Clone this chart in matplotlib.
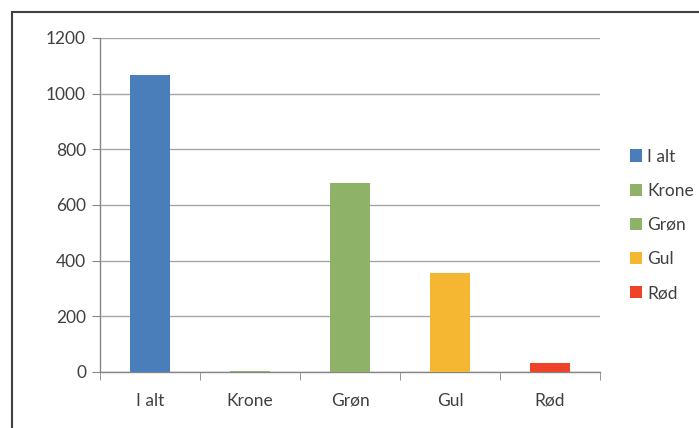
import matplotlib
matplotlib.use("Agg")
import matplotlib.pyplot as plt
from matplotlib.lines import Line2D
from matplotlib.patches import Patch

categories = ["I alt", "Krone", "Grøn", "Gul", "Rød"]
values = [1067, 5, 679, 354, 33]
colors = ["#4a7ebb", "#8db268", "#8db268", "#f5b731", "#ee4229"]
yticks = [0, 200, 400, 600, 800, 1000, 1200]

plt.rcParams['font.family'] = ['Lato', 'DejaVu Sans']

W, H = 699, 428
fig = plt.figure(figsize=(W / 100, H / 100), dpi=100)
ax = fig.add_axes([100 / W, 1 - 372 / H, 500 / W, 334 / H])

x = list(range(len(categories)))
ax.bar(x, values, width=0.4, color=colors, zorder=3)
ax.set_xlim(-0.5, len(categories) - 0.5)
ax.set_ylim(0, 1200)
ax.set_yticks(yticks)
ax.set_yticklabels([str(v) for v in yticks], fontsize=12.5, color="#404040")
ax.set_xticks(x)
ax.set_xticklabels(categories, fontsize=12.5, color="#404040")
ax.set_xticks([i - 0.5 for i in range(len(categories) + 1)], minor=True)
ax.tick_params(axis='x', which='major', length=0, pad=15)
ax.tick_params(axis='x', which='minor', length=6, color="#868686", direction='out')
ax.tick_params(axis='y', length=6, color="#868686", direction='out', pad=4)
ax.grid(axis='y', color="#a6a6a6", linewidth=1, zorder=0)
for s in ["top", "right"]:
    ax.spines[s].set_visible(False)
for s in ["left", "bottom"]:
    ax.spines[s].set_color("#868686")
    ax.spines[s].set_linewidth(1)

handles = [Patch(facecolor=c) for c in colors]
leg = fig.legend(handles, categories, loc='center left', bbox_to_anchor=(630 / W, 1 - 225 / H),
                 frameon=False, fontsize=12.5, handlelength=0.7, handleheight=0.7,
                 handletextpad=0.3, labelspacing=1.05, borderpad=0, borderaxespad=0)
for t in leg.get_texts():
    t.set_color("#404040")

fig.add_artist(Line2D([12 / W, 1.0], [1 - 11.5 / H, 1 - 11.5 / H], transform=fig.transFigure,
                      color="#404040", linewidth=1.5))
fig.add_artist(Line2D([12 / W, 12 / W], [0, 1 - 11.5 / H], transform=fig.transFigure,
                      color="#404040", linewidth=1.5))

fig.savefig("out.png", dpi=100)
